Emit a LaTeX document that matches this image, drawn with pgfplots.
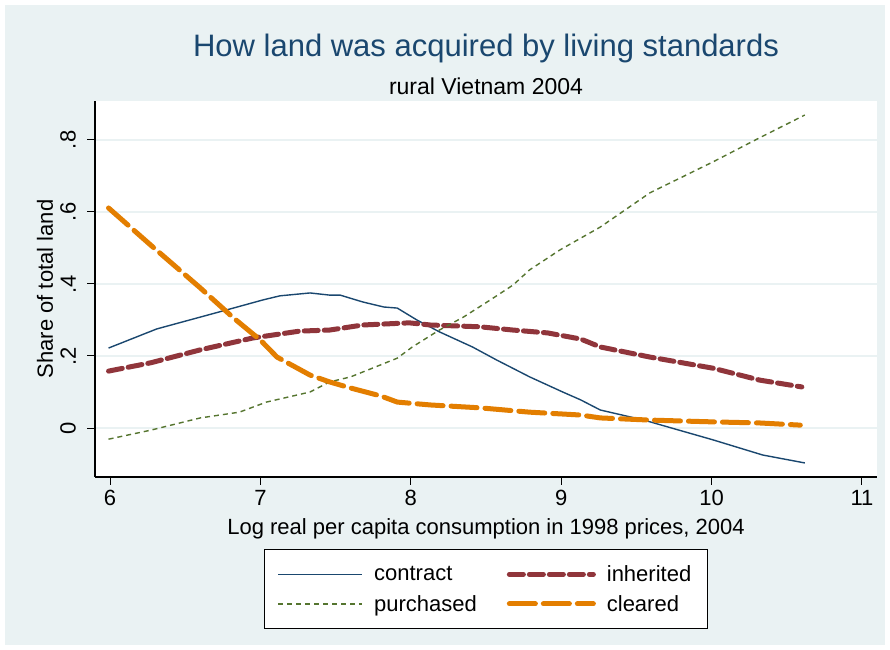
\documentclass[border=0pt]{standalone}
\usepackage{pgfplots}
\pgfplotsset{compat=1.18}
\usepackage{fontspec}
\setmainfont{Liberation Sans}
\definecolor{stnavy}{HTML}{1A476F}
\definecolor{stmaroon}{HTML}{90353B}
\definecolor{stgreen}{HTML}{55752F}
\definecolor{storange}{HTML}{E37E00}
\definecolor{stbg}{HTML}{EAF2F3}
\newcommand{\fs}[1]{\fontsize{#1bp}{#1bp}\selectfont}

\begin{document}
\begin{tikzpicture}[x=1bp,y=1bp]
\fill[white] (0,0) rectangle (890,650);
\fill[stbg] (5,5) rectangle (885,645);
\begin{axis}[
  at={(95bp,173bp)}, anchor=south west,
  width=782bp, height=376bp, scale only axis,
  clip mode=individual,
  axis background/.style={fill=white},
  axis x line*=bottom, axis y line*=left,
  axis line style={-,line width=1.2bp,black},
  xmin=5.9, xmax=11.1, ymin=-0.136, ymax=0.908,
  xtick={6,7,8,9,10,11},
  ytick={0,0.2,0.4,0.6,0.8},
  yticklabels={0,.2,.4,.6,.8},
  tick align=outside,
  major tick length=8bp,
  tick style={line width=1bp,black},
  ymajorgrids, major grid style={stbg,line width=1.6bp},
  /pgf/number format/assume math mode=true,
  ticklabel style={font=\fs{22}},
  yticklabel style={rotate=90,anchor=south,inner sep=11bp},
  xticklabel style={inner sep=5bp},
  xlabel={Log real per capita consumption in 1998 prices, 2004},
  ylabel={Share of total land},
  label style={font=\fs{22}},
  xlabel style={at={(axis description cs:0.5,0)},anchor=north,yshift=-41bp,inner sep=0pt},
  ylabel style={at={(axis description cs:-0.0639,0.5)},anchor=center,inner sep=0pt},
  legend columns=2,
  legend cell align=left,
  legend image code/.code={\draw[#1] (0bp,0bp) -- (84bp,0bp);},
  legend style={at={(0.5,-0.192)},anchor=north,draw=black,line width=1bp,fill=white,
    font=\fs{22},inner xsep=13bp,inner ysep=13bp,row sep=6bp,
    nodes={inner sep=3bp},
    /tikz/every odd column/.append style={column sep=8bp},
    /tikz/every even column/.append style={column sep=27bp}},
]
\addplot[stnavy,line width=1.4bp] coordinates {
(5.99,0.222)(6.31,0.275)(6.82,0.333)(7.02,0.356)(7.13,0.367)(7.33,0.375)
(7.46,0.369)(7.53,0.369)(7.68,0.350)(7.82,0.336)(7.91,0.333)(8.04,0.300)
(8.19,0.267)(8.41,0.225)(8.57,0.189)(8.79,0.142)(9.01,0.100)(9.13,0.078)
(9.26,0.050)(9.55,0.022)(10.01,-0.033)(10.34,-0.075)(10.62,-0.097)};
\addlegendentry{contract}
\addplot[stmaroon,line width=5bp,line cap=round,dash pattern=on 14bp off 6bp] coordinates {
(5.99,0.158)(6.27,0.181)(6.60,0.217)(6.95,0.250)(7.26,0.269)(7.46,0.272)
(7.68,0.286)(7.99,0.292)(8.13,0.286)(8.46,0.281)(8.68,0.272)(8.91,0.264)
(9.13,0.247)(9.26,0.225)(9.59,0.197)(10.01,0.166)(10.32,0.133)(10.60,0.114)};
\addlegendentry{inherited}
\addplot[stgreen,line width=1.4bp,dash pattern=on 5bp off 4bp] coordinates {
(5.99,-0.031)(6.27,-0.006)(6.60,0.028)(6.86,0.044)(7.04,0.072)(7.33,0.100)
(7.46,0.128)(7.60,0.142)(7.75,0.167)(7.91,0.194)(8.01,0.225)(8.19,0.272)
(8.35,0.308)(8.53,0.356)(8.68,0.397)(8.79,0.439)(8.99,0.494)(9.26,0.558)
(9.59,0.653)(10.01,0.739)(10.32,0.806)(10.62,0.869)};
\addlegendentry{purchased}
\addplot[storange,line width=5bp,line cap=round,dash pattern=on 26bp off 8bp] coordinates {
(5.99,0.611)(6.27,0.508)(6.60,0.389)(6.82,0.306)(7.00,0.244)(7.11,0.197)
(7.33,0.147)(7.46,0.128)(7.60,0.111)(7.80,0.089)(7.91,0.072)(8.13,0.064)
(8.46,0.056)(8.79,0.044)(9.13,0.036)(9.26,0.028)(9.59,0.022)(10.01,0.017)
(10.32,0.014)(10.59,0.008)};
\addlegendentry{cleared}
\node[font=\fs{31},text=stnavy,anchor=base] at (rel axis cs:0.5,1) [yshift=44bp] {How land was acquired by living standards};
\node[font=\fs{23},anchor=base] at (rel axis cs:0.5,1) [yshift=6bp] {rural Vietnam 2004};
\end{axis}
\end{tikzpicture}
\end{document}
